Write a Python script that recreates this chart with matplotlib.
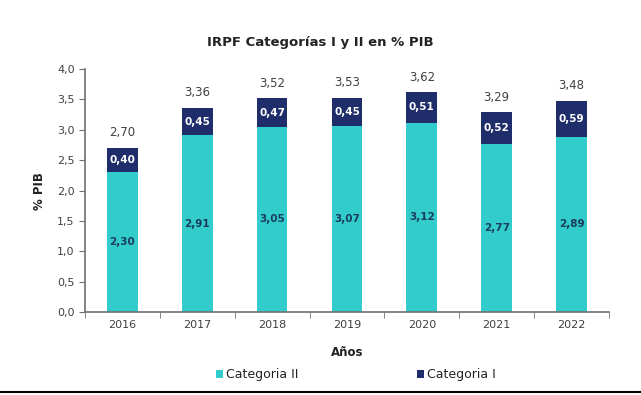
import matplotlib.pyplot as plt
from matplotlib.lines import Line2D
import numpy as np

years = ["2016", "2017", "2018", "2019", "2020", "2021", "2022"]
cat2 = [2.30, 2.91, 3.05, 3.07, 3.12, 2.77, 2.89]
cat1 = [0.40, 0.45, 0.47, 0.45, 0.51, 0.52, 0.59]
totals = [2.70, 3.36, 3.52, 3.53, 3.62, 3.29, 3.48]

TEAL = "#33CCCC"
NAVY = "#1F2D6B"
GREY = "#404040"


def fmt(v):
  return f"{v:.2f}".replace(".", ",")


fig = plt.figure(figsize=(6.41, 3.95), dpi=100)
ax = fig.add_axes([0.1326, 0.21, 0.8174, 0.615])

x = np.arange(len(years))
w = 0.41
ax.bar(x, cat2, w, color=TEAL, label="Categoria II")
ax.bar(x, cat1, w, bottom=cat2, color=NAVY, label="Categoria I")

for i in range(len(years)):
  ax.text(x[i], cat2[i] / 2, fmt(cat2[i]), ha="center", va="center",
          fontsize=7.5, fontweight="bold", color="#1A3D5C")
  ax.text(x[i], cat2[i] + cat1[i] / 2, fmt(cat1[i]), ha="center", va="center",
          fontsize=7.5, fontweight="bold", color="white")
  ax.text(x[i], totals[i] + 0.25, fmt(totals[i]), ha="center", va="center",
          fontsize=8.5, color=GREY)

ax.set_xlim(-0.5, len(years) - 0.5)
ax.set_ylim(0, 4.0)
ax.set_yticks(np.arange(0, 4.01, 0.5))
ax.set_yticklabels([f"{v:.1f}".replace(".", ",") for v in np.arange(0, 4.01, 0.5)])
ax.set_xticks(x)
ax.set_xticklabels(years)
ax.set_xticks(np.arange(-0.5, len(years), 1.0), minor=True)
ax.tick_params(axis="x", which="major", length=0, pad=6, labelsize=8, labelcolor=GREY)
ax.tick_params(axis="x", which="minor", length=4, direction="out", color="#707070")
ax.tick_params(axis="y", length=4, direction="out", color="#707070", labelsize=8, labelcolor=GREY)

for s in ["top", "right"]:
  ax.spines[s].set_visible(False)
for s in ["left", "bottom"]:
  ax.spines[s].set_color("#707070")
  ax.spines[s].set_linewidth(1.2)

ax.set_ylabel("% PIB", fontsize=8.5, fontweight="bold", color="#222222", labelpad=8)
ax.set_xlabel("Años", fontsize=8.5, fontweight="bold", color="#222222", labelpad=11.5)
fig.text(0.5, 0.893, "IRPF Categorías I y II en % PIB", ha="center", va="center",
         fontsize=9.5, fontweight="bold", color="#222222")

fig.legend(loc="center", bbox_to_anchor=(0.555, 0.052), ncol=2, frameon=False,
           fontsize=9, handlelength=0.6, handleheight=0.6, handletextpad=0.2,
           columnspacing=9.5, labelcolor="#222222")

fig.add_artist(Line2D([0, 1], [0.008, 0.008], color="black", linewidth=1.5))

fig.savefig("out.png", dpi=100)
